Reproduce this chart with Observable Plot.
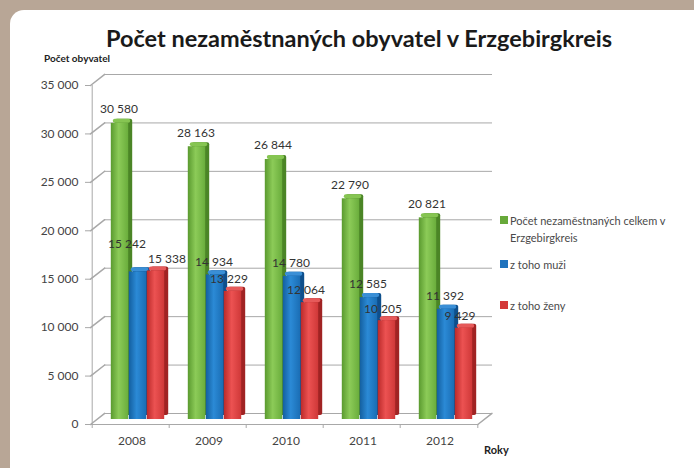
<!DOCTYPE html>
<html>
<head>
<meta charset="utf-8">
<script src="https://cdn.jsdelivr.net/npm/d3@7"></script>
<script src="https://cdn.jsdelivr.net/npm/@observablehq/plot@0.6"></script>
<style>
  html, body { margin: 0; padding: 0; }
  body { background: #b8a696; width: 694px; height: 468px; overflow: hidden; position: relative; font-family: Lato, "Open Sans", sans-serif; }
  #panel { position: absolute; left: 10px; top: 10px; width: 710px; height: 480px; background: #fff; border-radius: 14px; }
  #title { position: absolute; left: 0; width: 718px; top: 24px; text-align: center; font-weight: 700; font-size: 23.5px; color: #1a1a1a; white-space: nowrap; }
  #ylab { position: absolute; left: 44px; top: 52px; font-weight: 700; font-size: 10px; color: #222; }
  #xlab { position: absolute; left: 484px; top: 443px; font-weight: 700; font-size: 11px; color: #222; }
  #chart { position: absolute; left: 0; top: 0; }
  #legend { position: absolute; left: 500px; top: 212px; font-size: 11px; color: #4a4a4a; line-height: 17px; }
  .item { position: absolute; left: 0; white-space: nowrap; padding-left: 10px; }
  .sw { position: absolute; left: 0; top: 4px; width: 8px; height: 8px; }
</style>
</head>
<body>
<div id="panel"></div>
<div id="title">Počet nezaměstnaných obyvatel v Erzgebirgkreis</div>
<div id="ylab">Počet obyvatel</div>
<div id="chart"></div>
<div id="xlab">Roky</div>
<div id="legend"></div>
<script>
const years = ["2008", "2009", "2010", "2011", "2012"];
const total = [30580, 28163, 26844, 22790, 20821];
const men = [15242, 14934, 14780, 12585, 11392];
const women = [15338, 13229, 12064, 10205, 9429];
const seriesNames = ["Počet nezaměstnaných celkem v\nErzgebirgkreis", "z toho muži", "z toho ženy"];
const yTicks = [0, 5000, 10000, 15000, 20000, 25000, 30000, 35000];

const rows = years.map((year, i) => ({year, total: total[i], men: men[i], women: women[i]}));

const loc = d3.formatLocale({decimal: ",", thousands: " ", grouping: [3], currency: ["", ""]});
const fmt = loc.format(",d");

const frontColors = ["url(#gGreen)", "url(#gBlue)", "url(#gRed)"];
const sideColors = ["#4b8526", "#0e4f8c", "#a02323"];
const topColors = ["#86c552", "#3a8fd6", "#e65a5a"];
const swatch = ["#67a93a", "#1f73bd", "#d33939"];
const keys = ["total", "men", "women"];
const offsets = [-18, 0, 18];

const half = 38.8;
const grid = "#a8a8a8";
const lineShape = {draw(context, l) { context.moveTo(0, 0); context.lineTo(0, -l); }};

const defs = () => {
  const d = document.createElementNS("http://www.w3.org/2000/svg", "defs");
  d.innerHTML = `
  <linearGradient id="gGreen" x1="0" x2="1" y1="0" y2="0">
    <stop offset="0" stop-color="#5a9a2f"/><stop offset="0.45" stop-color="#8ccb58"/><stop offset="1" stop-color="#6aad3c"/>
  </linearGradient>
  <linearGradient id="gBlue" x1="0" x2="1" y1="0" y2="0">
    <stop offset="0" stop-color="#135f9f"/><stop offset="0.45" stop-color="#2b8ad6"/><stop offset="1" stop-color="#1a6db4"/>
  </linearGradient>
  <linearGradient id="gRed" x1="0" x2="1" y1="0" y2="0">
    <stop offset="0" stop-color="#bb2a2a"/><stop offset="0.45" stop-color="#ec5252"/><stop offset="1" stop-color="#cf3838"/>
  </linearGradient>`;
  return d;
};

const barMarks = [];
keys.forEach((k, s) => {
  barMarks.push(Plot.barY(rows, {x: "year", y: k, insetLeft: 29.8, insetRight: 29.8, dx: offsets[s] + 7 + 4, dy: -5 - 4, fill: sideColors[s], rx: 2}));
  barMarks.push(Plot.barY(rows, {x: "year", y1: k, y2: k, insetTop: -4, insetLeft: 29.8, insetRight: 29.8, dx: offsets[s] + 7 + 2, dy: -5, fill: topColors[s], rx: 2}));
  barMarks.push(Plot.barY(rows, {x: "year", y: k, insetLeft: 29.8, insetRight: 29.8, dx: offsets[s] + 7, dy: -5, fill: frontColors[s]}));
});

const crowded = d => Math.abs(d.men - d.women) < 1000;
const textOpts = {fontSize: 12, fill: "#333"};

const chart = Plot.plot({
  width: 694,
  height: 468,
  marginTop: 85,
  marginBottom: 44,
  marginLeft: 90,
  marginRight: 216,
  style: {background: "transparent", fontFamily: "Lato, 'Open Sans', sans-serif", fontSize: "12px"},
  x: {type: "band", domain: years, padding: 0, axis: null},
  y: {domain: [0, 35000], axis: null},
  marks: [
    defs,
    Plot.ruleY(yTicks, {dx: 14, dy: -11, stroke: grid}),
    Plot.vector(yTicks, {y: d => d, frameAnchor: "left", rotate: 52, length: 18, anchor: "start", shape: lineShape, stroke: grid}),
    Plot.vector([years[years.length - 1]], {x: d => d, y: () => 0, dx: half, rotate: 52, length: 18, anchor: "start", shape: lineShape, stroke: grid}),
    Plot.ruleY([0], {stroke: grid}),
    Plot.ruleX([years[0]], {x: d => d, dx: -half, y1: 0, y2: 35000, stroke: grid}),
    Plot.ruleX(years, {x: d => d, dx: -half, y1: 0, y2: 0, insetBottom: -4, stroke: grid}),
    Plot.ruleX([years[years.length - 1]], {x: d => d, dx: half, y1: 0, y2: 0, insetBottom: -4, stroke: grid}),
    Plot.axisY({ticks: yTicks, tickSize: 5, text: null, stroke: grid}),
    Plot.axisY({ticks: yTicks, tickSize: 0, tickPadding: 12, tickFormat: fmt, fill: "#444", fontSize: 12, label: null}),
    Plot.axisX({tickSize: 0, tickPadding: 12, dx: 1, fill: "#444", fontSize: 12, label: null}),
    ...barMarks,
    Plot.text(rows, {x: "year", y: "total", text: d => fmt(d.total), dx: -12, dy: -19, ...textOpts}),
    Plot.text(rows.filter(d => !crowded(d)), {x: "year", y: "men", text: d => fmt(d.men), dx: 6, dy: -18, ...textOpts}),
    Plot.text(rows.filter(crowded), {x: "year", y: "men", text: d => fmt(d.men), dx: -4, dy: -33, ...textOpts}),
    Plot.text(rows.filter(d => !crowded(d)), {x: "year", y: "women", text: d => fmt(d.women), dx: 21, dy: -17, ...textOpts}),
    Plot.text(rows.filter(crowded), {x: "year", y: "women", text: d => fmt(d.women), dx: 36, dy: -17, ...textOpts})
  ]
});
document.getElementById("chart").appendChild(chart);

const legend = document.getElementById("legend");
const tops = [0, 44, 85];
seriesNames.forEach((name, i) => {
  const item = document.createElement("div");
  item.className = "item";
  item.style.top = tops[i] + "px";
  const sw = document.createElement("span");
  sw.className = "sw";
  sw.style.background = swatch[i];
  item.appendChild(sw);
  name.split("\n").forEach((line, j) => {
    if (j) item.appendChild(document.createElement("br"));
    item.appendChild(document.createTextNode(line));
  });
  legend.appendChild(item);
});
</script>
</body>
</html>
